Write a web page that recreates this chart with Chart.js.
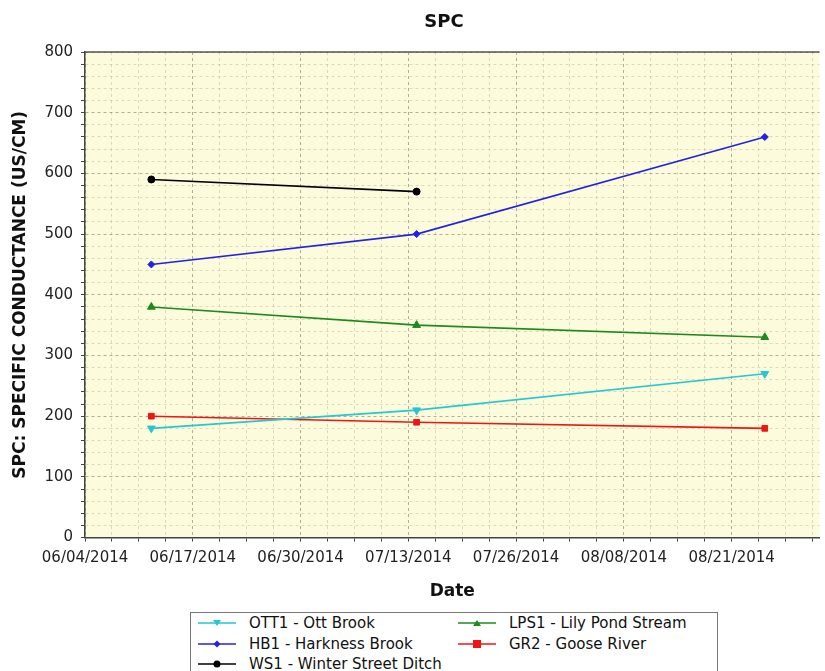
<!DOCTYPE html>
<html>
<head>
<meta charset="utf-8">
<script src="https://cdn.jsdelivr.net/npm/chart.js@4.4.1/dist/chart.umd.min.js"></script>
<style>
  body { margin: 0; background: #fff; font-family: "DejaVu Sans", sans-serif; }
  #wrap { position: relative; width: 825px; height: 671px; overflow: hidden; }
  #chartBox { position: absolute; left: 0; top: 0; width: 825px; height: 606px; }
  #legend { position: absolute; left: 190px; top: 612px; width: 528px; height: 70px;
            border: 1px solid #777; box-sizing: border-box; background: #fff; }
  .legend-item { position: absolute; height: 20px; display: flex; align-items: center;
                 font-size: 15px; color: #111; white-space: nowrap; }
  .legend-item svg { margin-right: 12px; }
</style>
</head>
<body>
<div id="wrap">
  <div id="chartBox"><canvas id="spcChart"></canvas></div>
  <div id="legend"></div>
</div>
<script>
// sample dates and values
const sampleDates = ['2014-06-12', '2014-07-14', '2014-08-25'];
const ott1 = [180, 210, 270];
const hb1 = [450, 500, 660];
const ws1 = [590, 570];
const lps1 = [380, 350, 330];
const gr2 = [200, 190, 180];

const seriesNames = ['OTT1 - Ott Brook', 'HB1 - Harkness Brook', 'WS1 - Winter Street Ditch',
                     'LPS1 - Lily Pond Stream', 'GR2 - Goose River'];
const seriesValues = [ott1, hb1, ws1, lps1, gr2];
const seriesColors = ['#22c8d2', '#2222e6', '#000000', '#1c8a1c', '#f01414'];
const seriesMarkers = ['triangle', 'rectRot', 'circle', 'triangle', 'rect'];
const markerRotation = [180, 0, 0, 0, 0];
const markerRadius = [4.5, 3.5, 3.5, 4.5, 4];

const axisStart = '2014-06-04';
const tickStepDays = 13;
const yTickLabels = [0, 100, 200, 300, 400, 500, 600, 700, 800];

const DAY = 86400000;
const t0 = Date.parse(axisStart + 'T00:00:00Z');
const tMax = t0 + 88.6 * DAY;

function fmtDate(ms) {
    const d = new Date(ms);
    const mm = String(d.getUTCMonth() + 1).padStart(2, '0');
    const dd = String(d.getUTCDate()).padStart(2, '0');
    return mm + '/' + dd + '/' + d.getUTCFullYear();
}

// build major + minor ticks for the date axis (4 minor steps per label)
function dateTicks(scale) {
    const ticks = [];
    const step = tickStepDays * DAY / 4;
    for (let i = 0; t0 + i * step <= tMax; i++) {
        ticks.push({ value: t0 + i * step, major: i % 4 === 0 });
    }
    scale.ticks = ticks;
}

function valueTicks(scale) {
    const ticks = [];
    for (let v = 0; v <= 800; v += 20) {
        ticks.push({ value: v, major: yTickLabels.includes(v) });
    }
    scale.ticks = ticks;
}

const isMajor = ctx => ctx.tick && ctx.tick.major;

const datasets = seriesNames.map((name, i) => ({
    label: name,
    data: seriesValues[i].map((v, j) => ({ x: Date.parse(sampleDates[j] + 'T00:00:00Z'), y: v })),
    borderColor: seriesColors[i],
    backgroundColor: seriesColors[i],
    borderWidth: 1.6,
    pointStyle: seriesMarkers[i],
    rotation: markerRotation[i],
    pointRadius: markerRadius[i],
    pointBorderWidth: 1,
    tension: 0
}));

const plotExtras = {
    id: 'plotExtras',
    beforeDraw(chart) {
        const { ctx, chartArea: a } = chart;
        ctx.save();
        ctx.fillStyle = '#fcfcdc';
        ctx.fillRect(a.left, a.top, a.right - a.left, a.bottom - a.top);
        ctx.restore();
    },
    afterDraw(chart) {
        const { ctx, chartArea: a } = chart;
        ctx.save();
        ctx.strokeStyle = '#555';
        ctx.lineWidth = 1.5;
        ctx.beginPath();
        ctx.moveTo(a.left, a.top);
        ctx.lineTo(a.right, a.top);
        ctx.stroke();
        ctx.fillStyle = '#111';
        ctx.font = 'bold 18px "DejaVu Sans"';
        ctx.textAlign = 'center';
        ctx.textBaseline = 'middle';
        ctx.fillText('SPC', 444, 22);
        ctx.restore();
    }
};

const gridColor = ctx => isMajor(ctx) ? 'rgba(110,110,100,0.55)' : 'rgba(170,170,140,0.4)';

new Chart(document.getElementById('spcChart'), {
    type: 'line',
    data: { datasets: datasets },
    plugins: [plotExtras],
    options: {
        responsive: true,
        maintainAspectRatio: false,
        animation: false,
        layout: { padding: { top: 52, right: 0, left: 6, bottom: 0 } },
        plugins: {
            legend: { display: false },
            tooltip: { enabled: false }
        },
        scales: {
            x: {
                type: 'linear',
                min: t0,
                max: tMax,
                afterBuildTicks: dateTicks,
                ticks: {
                    autoSkip: false,
                    maxRotation: 0,
                    padding: 8,
                    color: '#222',
                    font: { family: 'DejaVu Sans', size: 15 },
                    callback: (v, i, ticks) => ticks[i].major ? fmtDate(v) : ''
                },
                grid: { color: gridColor, lineWidth: 1, tickLength: 4, tickColor: '#444' },
                border: { display: true, color: '#444', width: 1.5, dash: [3, 3] },
                title: { display: true, text: 'Date', color: '#111',
                         font: { family: 'DejaVu Sans', size: 17, weight: 'bold' }, padding: { top: 6 } }
            },
            y: {
                min: 0,
                max: 800,
                afterBuildTicks: valueTicks,
                ticks: {
                    autoSkip: false,
                    padding: 8,
                    color: '#222',
                    font: { family: 'DejaVu Sans', size: 15 },
                    callback: (v, i, ticks) => ticks[i].major ? String(v) : ''
                },
                grid: { color: gridColor, lineWidth: 1, tickLength: 4, tickColor: '#444' },
                border: { display: true, color: '#444', width: 1.5, dash: [3, 3] },
                title: { display: true, text: 'SPC: SPECIFIC CONDUCTANCE (US/CM)', color: '#111',
                         font: { family: 'DejaVu Sans', size: 17, weight: 'bold' }, padding: { bottom: 6 } }
            }
        }
    }
});

// legend in two columns, drawn as html
const legendSlots = [[0, 0], [0, 1], [0, 2], [1, 0], [1, 1]];
const legendBox = document.getElementById('legend');
seriesNames.forEach((name, i) => {
    const item = document.createElement('div');
    item.className = 'legend-item';
    const [col, row] = legendSlots[i];
    item.style.left = (col === 0 ? 6 : 266) + 'px';
    item.style.top = (row * 20.5) + 'px';
    const c = seriesColors[i];
    let mark = '';
    if (seriesMarkers[i] === 'triangle' && markerRotation[i] === 180) mark = `<polygon points="16,7 24,7 20,13" fill="${c}"/>`;
    else if (seriesMarkers[i] === 'triangle') mark = `<polygon points="16,13 24,13 20,7" fill="${c}"/>`;
    else if (seriesMarkers[i] === 'rectRot') mark = `<polygon points="20,6.5 23.5,10 20,13.5 16.5,10" fill="${c}"/>`;
    else if (seriesMarkers[i] === 'rect') mark = `<rect x="16" y="6" width="8" height="8" fill="${c}"/>`;
    else mark = `<circle cx="20" cy="10" r="3.5" fill="${c}"/>`;
    item.innerHTML = `<svg width="40" height="20"><line x1="1" y1="10" x2="39" y2="10" stroke="${c}" stroke-width="1.6"/>${mark}</svg><span>${name}</span>`;
    legendBox.appendChild(item);
});
</script>
</body>
</html>
